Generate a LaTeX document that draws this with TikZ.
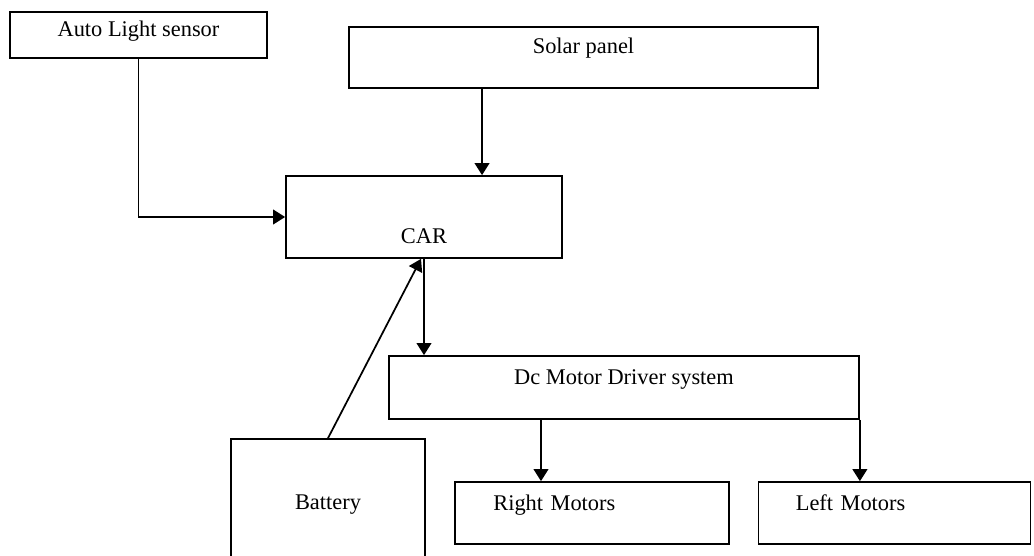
\documentclass[tikz,border=0pt]{standalone}
\usepackage{fontspec}
\setmainfont{Liberation Serif}
\usepackage{tikz}
\usetikzlibrary{arrows.meta, positioning}
\tikzstyle{box} = [rectangle, draw=black, line width=1.3pt, inner sep=0pt, text centered, fill=white, font=\fontsize{16.8}{19}\selectfont]
\tikzstyle{motorbox} = [box, align=left, inner xsep=28pt, text width=148pt, minimum width=205pt, text height=21pt, text depth=25.5pt]
\tikzstyle{arrow} = [line width=1.3pt, -{Triangle[length=9pt, width=11pt]}]
\begin{document}
\begin{tikzpicture}[x=0.75pt, y=-0.75pt]
	\useasboundingbox (0,0) rectangle (1034,556);
	\node (sensor)[box, minimum width=192.75pt, text height=18.75pt, text depth=15.75pt] at (138.5,35) {Auto Light sensor};
	\node (solar)[box, minimum width=351.75pt, text height=20.25pt, text depth=25.5pt] at (583.5,57.5) {Solar panel};
	\node (car)[box, minimum width=207pt, text height=50.25pt, text depth=11.25pt] at (424,217) {CAR};
	\node (driver)[box, minimum width=352.5pt, text height=21pt, text depth=26.25pt] at (624,387.5) {Dc Motor Driver system};
	\node (battery)[box, minimum width=145.5pt, text height=52.5pt, text depth=38.25pt] at (328,499.5) {Battery};
	\node (right)[motorbox] at (592,513) {Right Motors};
	\node (left)[motorbox, minimum width=203.25pt] at (894.5,513) {Left Motors};
	\draw [arrow] (sensor.south) |- (car.west);
	\draw [arrow] ([xshift=-76.1pt]solar.south) -- ([xshift=-76.1pt]solar.south |- car.north);
	\draw [arrow] (car.south) -- (car.south |- driver.north);
	\draw [arrow] (battery.north) -- ([xshift=-2.25pt]car.south);
	\draw [arrow] ([xshift=-38.25pt]right.north |- driver.south) -- ([xshift=-38.25pt]right.north);
	\draw [arrow] (driver.south east) -- (driver.south east |- left.north);
\end{tikzpicture}
\end{document}
